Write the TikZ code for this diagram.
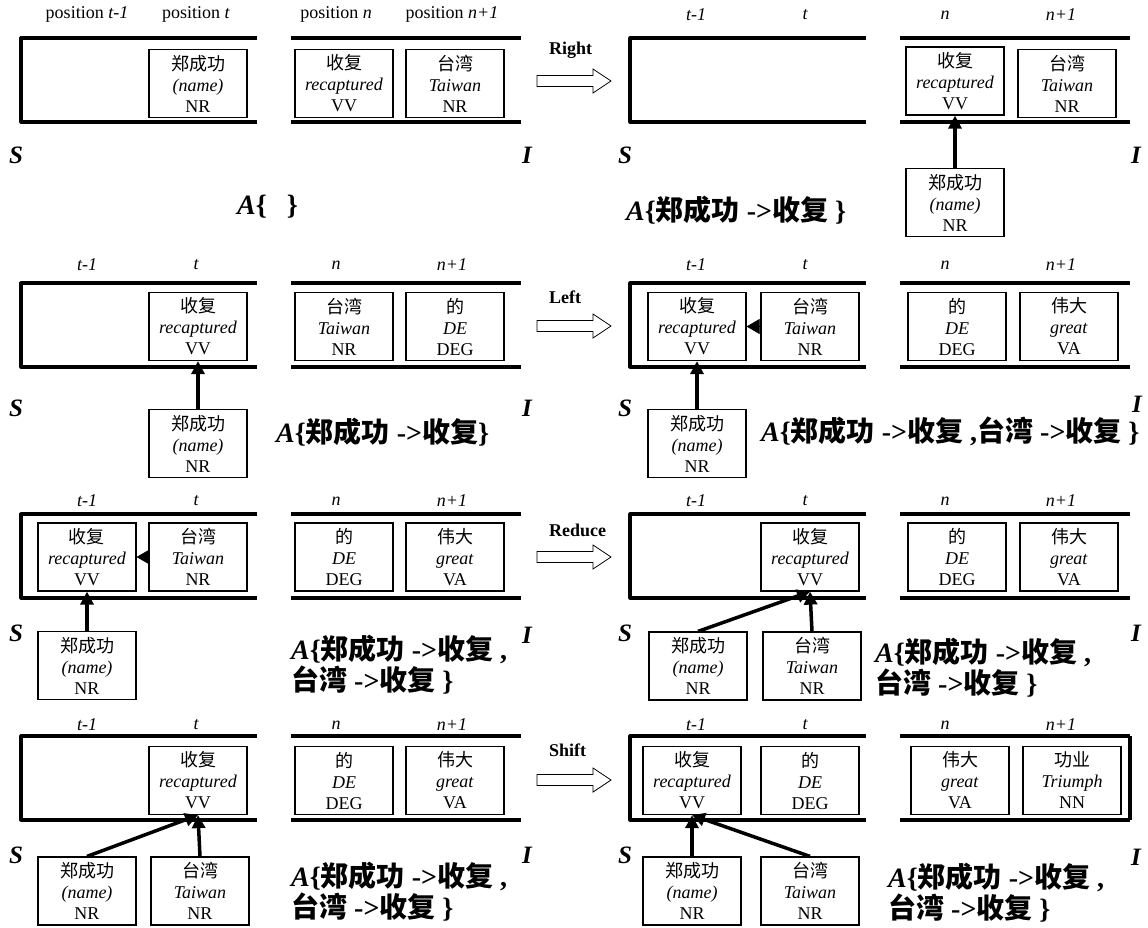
\documentclass[tikz,border=0pt]{standalone}
\usepackage{fontspec}
\setmainfont{Liberation Serif}
\newfontfamily\cjk{Noto Sans CJK SC}
\usetikzlibrary{arrows.meta}
\tikzset{
 frameline/.style={line width=3.2pt, line join=round},
 tok/.style={draw, line width=1.2pt, minimum width=98pt, minimum height=68pt, inner sep=0pt, align=center, font=\fontsize{18}{21}\selectfont},
 hdr/.style={font=\fontsize{18}{21}\selectfont\itshape, inner sep=0pt},
 hdrp/.style={font=\fontsize{18}{21}\selectfont, inner sep=0pt},
 sym/.style={font=\fontsize{25}{25}\selectfont\bfseries\itshape, inner sep=0pt},
 act/.style={font=\fontsize{18}{21}\selectfont\bfseries, inner sep=0pt, anchor=west},
 atext/.style={font=\fontsize{28}{31}\selectfont\bfseries, inner sep=0pt, anchor=west, align=left},
 dep/.style={line width=3.5pt, -{Triangle[length=13pt,width=13pt]}},
 lnk/.style={line width=0.5pt, -{Triangle[length=13pt,width=15pt]}},
 hollow/.style={line width=0.8pt, fill=white},
}
\newcommand\tk[3]{{\cjk #1}\\\textit{#2}\\#3}
\newcommand\frm[2]{%
 \draw[frameline] ({#1+257},#2) -- ({#1+21},#2) -- ({#1+21},{#2+84}) -- ({#1+257},{#2+84});
 \draw[frameline] ({#1+291},#2) -- ({#1+521},#2);
 \draw[frameline] ({#1+291},{#2+84}) -- ({#1+521},{#2+84});}
\newcommand\harrow[1]{\draw[hollow] (537,{#1-5.5}) -- (593,{#1-5.5}) -- (593,{#1-12}) -- (611,#1) -- (593,{#1+12}) -- (593,{#1+5.5}) -- (537,{#1+5.5}) -- cycle;}
\begin{document}
\begin{tikzpicture}[x=1pt,y=-1pt]
\fill[white] (0,0) rectangle (1148,927);
\useasboundingbox (0,0) rectangle (1148,927);

% ===== Row 1 left =====
\frm{0}{38}
\node[hdrp] (h1a) at (87,14) {position \textit{t-1}};
\node[hdrp] (h1b) at (196,14) {position \textit{t}};
\node[hdrp] (h1c) at (336,14) {position \textit{n}};
\node[hdrp] (h1d) at (452,14) {position \textit{n+1}};
\node[tok] (r1a) at (198,83.5) {\tk{郑成功}{(name)}{NR}};
\node[tok] (r1b) at (344,83.5) {\tk{收复}{recaptured}{VV}};
\node[tok] (r1c) at (455,83.5) {\tk{台湾}{Taiwan}{NR}};
\node[sym] (s1) at (16,155) {S};
\node[sym] (i1) at (527,155) {I};
\node[atext] (a1) at (237,207) {\textit{A}\{\hspace{20pt}\}};
\node[act] (act1) at (549,50) {Right};
\harrow{81}

% ===== Row 1 right =====
\frm{609}{38}
\node[hdr] (h1e) at (696,15) {t-1};
\node[hdr] (h1f) at (805,15) {t};
\node[hdr] (h1g) at (945,15) {n};
\node[hdr] (h1h) at (1061,15) {n+1};
\node[tok] (r1d) at (955,81) {\tk{收复}{recaptured}{VV}};
\node[tok] (r1e) at (1067,83.5) {\tk{台湾}{Taiwan}{NR}};
\node[tok] (r1f) at (955,202.5) {\tk{郑成功}{(name)}{NR}};
\draw[dep] (r1f.north) -- (r1d.south);
\node[sym] (s2) at (625,155) {S};
\node[sym] (i2) at (1136,155) {I};
\node[atext] (a2) at (626,210) {\textit{A}\{{\cjk 郑成功} ->{\cjk 收复} \}};

% ===== Row 2 left =====
\frm{0}{283}
\node[hdr] (h2a) at (87,265) {t-1};
\node[hdr] (h2b) at (196,265) {t};
\node[hdr] (h2c) at (336,265) {n};
\node[hdr] (h2d) at (452,265) {n+1};
\node[tok] (r2a) at (198,326.5) {\tk{收复}{recaptured}{VV}};
\node[tok] (r2b) at (344,326.5) {\tk{台湾}{Taiwan}{NR}};
\node[tok] (r2c) at (455,326.5) {\tk{的}{DE}{DEG}};
\node[tok] (r2f) at (198,443.5) {\tk{郑成功}{(name)}{NR}};
\draw[dep] (r2f.north) -- (r2a.south);
\node[sym] (s3) at (16,408) {S};
\node[sym] (i3) at (527,408) {I};
\node[atext] (a3) at (276,432) {\textit{A}\{{\cjk 郑成功} ->{\cjk 收复}\}};
\node[act] (act2) at (549,297) {Left};
\harrow{326}

% ===== Row 2 right =====
\frm{609}{283}
\node[hdr] (h2e) at (696,265) {t-1};
\node[hdr] (h2f) at (805,265) {t};
\node[hdr] (h2g) at (945,265) {n};
\node[hdr] (h2h) at (1061,265) {n+1};
\node[tok] (r2d) at (697,326.5) {\tk{收复}{recaptured}{VV}};
\node[tok] (r2e) at (810,326.5) {\tk{台湾}{Taiwan}{NR}};
\node[tok] (r2g) at (957,326.5) {\tk{的}{DE}{DEG}};
\node[tok] (r2h) at (1069,326.5) {\tk{伟大}{great}{VA}};
\draw[lnk] (r2e.west) -- (r2d.east);
\node[tok] (r2i) at (697,443.5) {\tk{郑成功}{(name)}{NR}};
\draw[dep] (r2i.north) -- (r2d.south);
\node[sym] (s4) at (625,408) {S};
\node[sym] (i4) at (1137,404) {I};
\node[atext] (a4) at (761,431) {\textit{A}\{{\cjk 郑成功} ->{\cjk 收复} ,{\cjk 台湾} ->{\cjk 收复} \}};

% ===== Row 3 left =====
\frm{0}{514}
\node[hdr] (h3a) at (87,501) {t-1};
\node[hdr] (h3b) at (196,501) {t};
\node[hdr] (h3c) at (336,501) {n};
\node[hdr] (h3d) at (452,501) {n+1};
\node[tok] (r3a) at (87,557) {\tk{收复}{recaptured}{VV}};
\node[tok] (r3b) at (198,557) {\tk{台湾}{Taiwan}{NR}};
\node[tok] (r3c) at (344,557) {\tk{的}{DE}{DEG}};
\node[tok] (r3d) at (455,557) {\tk{伟大}{great}{VA}};
\draw[lnk] (r3b.west) -- (r3a.east);
\node[tok] (r3f) at (87,665.5) {\tk{郑成功}{(name)}{NR}};
\draw[dep] (r3f.north) -- (r3a.south);
\node[sym] (s5) at (16,633) {S};
\node[sym] (i5) at (527,635) {I};
\node[atext] (a5) at (291,665) {\textit{A}\{{\cjk 郑成功} ->{\cjk 收复} ,\\{\cjk 台湾} ->{\cjk 收复} \}};
\node[act] (act3) at (549,530) {Reduce};
\harrow{557}

% ===== Row 3 right =====
\frm{609}{514}
\node[hdr] (h3e) at (696,501) {t-1};
\node[hdr] (h3f) at (805,501) {t};
\node[hdr] (h3g) at (945,501) {n};
\node[hdr] (h3h) at (1061,501) {n+1};
\node[tok] (r3e) at (810,557) {\tk{收复}{recaptured}{VV}};
\node[tok] (r3g) at (957,557) {\tk{的}{DE}{DEG}};
\node[tok] (r3h) at (1069,557) {\tk{伟大}{great}{VA}};
\node[tok] (r3i) at (698,666) {\tk{郑成功}{(name)}{NR}};
\node[tok] (r3j) at (812,666) {\tk{台湾}{Taiwan}{NR}};
\draw[dep] (r3i.north) -- (r3e.south);
\draw[dep] (r3j.north) -- (r3e.south);
\node[sym] (s6) at (625,633) {S};
\node[sym] (i6) at (1136,633) {I};
\node[atext] (a6) at (875,668) {\textit{A}\{{\cjk 郑成功} ->{\cjk 收复} ,\\{\cjk 台湾} ->{\cjk 收复} \}};

% ===== Row 4 left =====
\frm{0}{736}
\node[hdr] (h4a) at (87,725) {t-1};
\node[hdr] (h4b) at (196,725) {t};
\node[hdr] (h4c) at (336,725) {n};
\node[hdr] (h4d) at (452,725) {n+1};
\node[tok] (r4a) at (198,780.5) {\tk{收复}{recaptured}{VV}};
\node[tok] (r4c) at (344,780.5) {\tk{的}{DE}{DEG}};
\node[tok] (r4d) at (455,780.5) {\tk{伟大}{great}{VA}};
\node[tok] (r4f) at (87,891) {\tk{郑成功}{(name)}{NR}};
\node[tok] (r4g) at (200,891) {\tk{台湾}{Taiwan}{NR}};
\draw[dep] (r4f.north) -- (r4a.south);
\draw[dep] (r4g.north) -- (r4a.south);
\node[sym] (s7) at (16,855) {S};
\node[sym] (i7) at (527,855) {I};
\node[atext] (a7) at (291,892) {\textit{A}\{{\cjk 郑成功} ->{\cjk 收复} ,\\{\cjk 台湾} ->{\cjk 收复} \}};
\node[act] (act4) at (549,750) {Shift};
\harrow{780}

% ===== Row 4 right =====
\frm{609}{736}
\draw[frameline] (1130,736) -- (1130,820);
\node[hdr] (h4e) at (696,725) {t-1};
\node[hdr] (h4f) at (805,725) {t};
\node[hdr] (h4g) at (945,725) {n};
\node[hdr] (h4h) at (1061,725) {n+1};
\node[tok] (r4i) at (692,780.5) {\tk{收复}{recaptured}{VV}};
\node[tok] (r4j) at (810,780.5) {\tk{的}{DE}{DEG}};
\node[tok] (r4k) at (960,780.5) {\tk{伟大}{great}{VA}};
\node[tok] (r4l) at (1072,780.5) {\tk{功业}{Triumph}{NN}};
\node[tok] (r4m) at (692,891) {\tk{郑成功}{(name)}{NR}};
\node[tok] (r4n) at (810,891) {\tk{台湾}{Taiwan}{NR}};
\draw[dep] (r4m.north) -- (r4i.south);
\draw[dep] (r4n.north) -- (r4i.south);
\node[sym] (s8) at (625,855) {S};
\node[sym] (i8) at (1136,857) {I};
\node[atext] (a8) at (888,893) {\textit{A}\{{\cjk 郑成功} ->{\cjk 收复} ,\\{\cjk 台湾} ->{\cjk 收复} \}};
\end{tikzpicture}
\end{document}
